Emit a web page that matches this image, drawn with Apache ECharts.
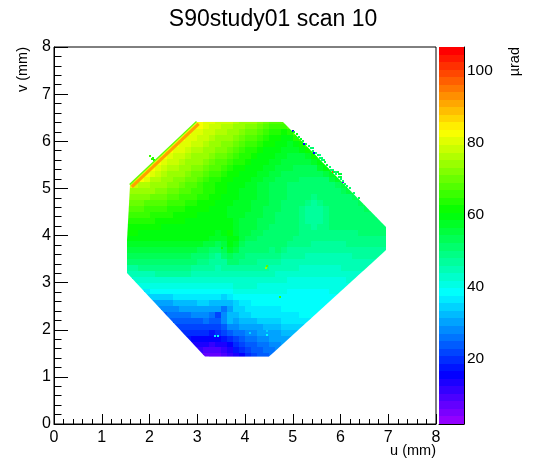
<!DOCTYPE html>
<html><head><meta charset="utf-8"><style>html,body{margin:0;padding:0;background:#fff}#c{width:546px;height:472px}</style>
<script src="https://cdn.jsdelivr.net/npm/echarts@6/dist/echarts.min.js"></script></head><body><div id="c"></div>
<script>
const titleText = 'S90study01 scan 10';
const uName = 'u (mm)', vName = 'v (mm)', zName = 'µrad';
const zMin = 1.75, zMax = 106.5, zLevels = 50;
const zTicks = [20, 40, 60, 80, 100];
const uOrigin = 1.5, vTop = 6.5, cellMM = 0.125;
// Outline of the measured region (mm)
const outline = [[2.995,6.41],[4.796,6.41],[6.953,4.18],[6.953,3.69],[4.503,1.43],[3.162,1.43],[1.529,3.204],[1.529,3.9],[1.592,5.07]];
// High-reading strip along the upper-left edge and its thin outer fringe (mm)
const edgeStrip = [[1.63,5.03],[3.03,6.37]];
const edgeFringe = [[1.585,5.08],[2.985,6.42]];
// First column index of each row, top row first
const rowStart = [11,10,9,8,7,6,5,4,3,2,1,0,0,0,0,0,0,0,0,0,0,0,0,0,0,0,0,0,1,2,3,4,5,6,7,8,9,10,10,11,12];
const rows = [
[84,83,81,80,79,78,78,77,75,74,73,71,70,68,67,68,68],
[84,83,82,80,79,78,77,76,75,74,72,71,69,68,66,65,66,68],
[84,83,81,80,79,78,77,76,74,73,72,70,69,67,66,64,63,62,64,67],
[84,83,81,80,79,78,77,75,74,73,71,70,68,67,65,64,62,61,60,60,63,66],
[84,83,81,80,79,78,76,75,74,72,71,70,68,66,65,63,62,61,60,59,58,59,62,65],
[84,83,81,80,79,77,76,75,73,72,71,69,68,66,64,63,62,60,60,59,58,57,57,59,62,64],
[84,83,81,79,78,77,75,74,73,72,70,69,67,66,64,63,62,60,60,59,58,57,56,56,56,58,61,63],
[84,83,81,79,78,76,75,74,73,71,70,68,67,65,64,63,61,60,60,59,58,57,56,56,55,55,55,57,60,62],
[84,83,81,79,77,76,75,73,72,71,70,68,67,65,64,62,61,60,60,59,58,57,56,55,55,54,54,54,54,57,60,62],
[84,83,81,78,77,75,74,73,72,70,69,68,66,65,63,62,61,60,60,59,58,57,56,55,54,54,53,53,53,53,53,56,58,61],
[84,82,80,77,76,75,73,72,71,70,69,67,66,64,63,62,61,60,60,59,58,57,56,55,54,54,53,53,52,52,52,52,52,55,57,60],
[80,79,77,76,75,74,73,72,71,70,68,67,65,64,63,62,61,60,59,59,58,57,56,55,54,54,53,52,52,52,51,51,51,52,52,54,56,59],
[74,74,74,73,73,72,71,70,69,68,67,66,65,64,63,61,61,60,59,58,58,57,56,55,54,53,53,52,52,51,51,51,51,51,52,52,53,55,58],
[71,71,71,71,70,70,69,68,67,66,65,65,64,63,62,61,60,60,59,58,57,57,56,55,54,53,53,52,51,51,50,49,50,51,51,51,52,52,54,57],
[69,69,69,68,68,68,67,66,65,65,64,63,62,62,61,60,60,59,58,58,57,56,55,55,54,53,52,52,51,50,48,47,49,50,51,51,51,51,52,53,56],
[67,67,67,66,66,66,65,64,64,63,62,62,61,61,60,60,59,58,58,57,57,56,55,54,53,53,52,51,50,49,47,46,47,49,51,50,51,51,51,52,53,55],
[66,65,65,65,64,64,63,63,62,62,61,61,60,60,60,59,59,58,57,57,56,56,55,54,53,52,52,51,50,49,47,46,46,48,50,50,50,50,51,51,51,52,54],
[64,64,63,63,63,62,62,62,61,61,60,60,60,60,60,59,59,60,58,56,56,55,54,54,53,52,51,51,50,48,47,46,47,49,50,50,50,50,50,50,51,51,52,54],
[62,62,62,61,61,61,60,60,60,60,60,60,60,60,60,59,59,60,58,56,55,55,54,53,52,52,51,51,50,49,48,47,48,49,50,50,50,50,50,50,50,50,51,52],
[61,61,60,60,60,60,60,60,60,60,60,60,60,60,59,58,60,61,58,56,55,54,53,52,52,51,51,50,50,49,49,48,48,49,49,49,49,49,49,50,50,50,50,50],
[59,59,59,59,59,59,59,59,59,59,59,59,59,59,58,57,58,60,59,56,54,53,52,52,51,51,51,50,49,49,49,48,48,48,48,48,48,49,49,49,49,49,49,49],
[57,57,57,57,57,57,57,57,57,57,57,57,57,56,55,53,56,59,58,54,52,52,51,51,50,50,50,49,48,48,48,47,47,47,47,47,47,48,48,48,48,48,48,48],
[55,55,55,55,55,55,55,55,55,55,55,55,54,53,51,50,54,57,55,52,50,50,50,50,49,50,48,47,47,47,47,46,46,46,46,46,46,47,47,47,47,47,47,47],
[53,53,53,53,53,53,53,53,53,53,53,52,51,50,48,47,50,53,52,50,49,49,49,49,48,48,47,46,46,46,45,45,45,45,45,45,45,45,46,46,46,46,46,46],
[50,50,50,50,51,51,51,51,51,51,50,50,49,48,47,46,47,50,50,48,48,48,47,47,47,47,45,45,45,45,44,44,44,44,44,44,44,44,45,45,45,45,45],
[47,47,48,48,48,48,48,48,48,48,48,47,47,47,46,45,46,47,47,46,46,46,46,46,45,45,44,44,44,43,43,43,43,43,43,43,44,44,44,44,44,44],
[44,45,45,45,45,46,46,46,46,46,46,45,45,45,45,44,44,45,45,45,44,44,44,44,44,43,43,43,42,42,42,42,42,42,42,42,42,43,43,43,43],
[42,42,42,43,43,43,43,43,43,43,43,43,43,43,43,42,42,43,43,43,43,43,42,42,42,42,42,41,41,41,41,41,41,41,41,41,41,42,42],
[40,40,40,40,40,41,41,41,41,41,41,41,41,41,40,40,41,42,42,42,42,41,41,41,41,40,40,40,40,40,40,40,40,40,40,41,41],
[37,37,38,38,38,38,39,39,39,39,39,39,39,38,38,39,40,40,40,40,40,40,40,40,40,39,39,39,39,39,39,39,40,40,40],
[34,34,34,35,35,36,36,36,37,37,37,36,36,35,36,38,38,39,39,39,39,39,39,39,39,39,38,38,38,38,39,39,39],
[30,30,31,31,32,32,33,33,34,34,33,33,32,32,35,36,37,38,38,38,38,38,38,38,38,38,38,39,39,39,39],
[27,27,28,28,29,29,30,30,30,30,29,26,30,34,35,36,37,37,37,37,37,38,38,38,38,38,39,39,39],
[24,25,25,26,26,27,27,27,26,21,27,33,33,34,35,36,36,36,36,37,37,37,37,38,38,38,38],
[23,23,24,24,24,24,25,24,23,28,32,31,32,33,33,34,34,35,35,36,36,36,37,37,37],
[21,21,21,22,22,22,22,22,24,27,28,29,30,31,31,32,33,33,34,34,35,35,36],
[19,19,19,19,19,18,19,21,23,25,26,27,28,29,30,30,31,32,33,33,34],
[17,16,16,16,15,16,18,19,22,24,25,26,27,28,29,30,30,31],
[15,14,13,13,12,13,14,16,19,21,23,24,25,26,27,28,29],
[12,11,10,10,10,12,14,17,19,21,23,24,25,26,27],
[9,8,8,8,9,11,13,16,19,21,23,24,25]
];
// Isolated noisy readings [u, v, value]
const specks = [[4.44,3.31,75],[4.46,3.36,68],[4.73,2.7,65],[3.52,3.73,62],[3.43,1.87,38],[3.38,1.87,36],[4.46,1.89,38],[4.46,1.98,34],[4.1,1.93,34],
[2.07,5.65,64],[2.02,5.69,66],[2.1,5.6,62],[2.05,5.62,64],[5,6.22,15],[5.24,5.94,15],[5.45,5.75,15],[6.05,5.14,10],[5.84,5.35,100],
[5.03,6.2,58],[5.08,6.15,60],[5.13,6.1,56],[5.18,6.05,58],[5.22,6,56],[5.28,5.95,55],[5.33,5.9,54],[5.38,5.85,50],[5.42,5.85,52],[5.43,5.8,54],[5.48,5.75,52],
[5.52,5.7,55],[5.57,5.7,48],[5.58,5.65,52],[5.62,5.65,50],[5.62,5.6,52],[5.66,5.6,54],[5.67,5.55,55],[5.71,5.5,56],[5.77,5.45,52],[5.81,5.4,50],[5.85,5.4,52],
[5.86,5.35,55],[5.91,5.35,52],[5.95,5.35,56],[5.91,5.3,52],[5.96,5.3,58],[6,5.3,56],[5.96,5.25,54],[6,5.25,55],[6,5.2,52],[6.05,5.15,50],[6.1,5.1,54],[6.14,5.05,52],[6.19,5,50],[6.29,4.9,52],[6.38,4.8,54]];

const step = (zMax - zMin) / zLevels;
const pieces = [];
for (let i = 0; i < zLevels; i++) {
  pieces.push({gte: zMin + i * step, lt: zMin + (i + 1) * step, color: 'hsl(' + (280 - (i + 1) * 5.6) + ',100%,50%)'});
}
pieces[0].gte = -1000; pieces[zLevels - 1].lt = 1000;
const cells = [];
rows.forEach((row, r) => row.forEach((val, k) => cells.push([uOrigin + (rowStart[r] + k) * cellMM, vTop - r * cellMM, val])));
const bands = pieces.map((p, i) => [zMin + i * step, zMin + (i + 1) * step, zMin + (i + 0.5) * step]);

function clipConvex(pts, poly) {
  let out = pts;
  for (let i = 0; i < poly.length && out.length; i++) {
    const a = poly[i], b = poly[(i + 1) % poly.length];
    const side = p => (b[0] - a[0]) * (p[1] - a[1]) - (b[1] - a[1]) * (p[0] - a[0]);
    const res = [];
    for (let j = 0; j < out.length; j++) {
      const p = out[j], q = out[(j + 1) % out.length], sp = side(p), sq = side(q);
      if (sp >= 0) res.push(p);
      if ((sp >= 0) !== (sq >= 0)) { const t = sp / (sp - sq); res.push([p[0] + t * (q[0] - p[0]), p[1] + t * (q[1] - p[1])]); }
    }
    out = res;
  }
  return out;
}
function cellItem(params, api) {
  const u = api.value(0), v = api.value(1);
  const p0 = api.coord([u, v]), p1 = api.coord([u + cellMM, v - cellMM]);
  const x0 = Math.round(p0[0]), y0 = Math.round(p0[1]), x1 = Math.round(p1[0]), y1 = Math.round(p1[1]);
  const poly = outline.map(o => api.coord(o));
  const pts = clipConvex([[x0, y0], [x1, y0], [x1, y1], [x0, y1]], poly);
  if (pts.length < 3) return null;
  return {type: 'polygon', shape: {points: pts}, style: {fill: api.visual('color')}};
}
function speckItem(params, api) {
  const p = api.coord([api.value(0), api.value(1)]);
  return {type: 'rect', shape: {x: Math.round(p[0]) - 1, y: Math.round(p[1]) - 1, width: 2, height: 2}, style: {fill: api.visual('color')}};
}
function bandItem(params, api) {
  const lo = api.coord([0, api.value(0)]), hi = api.coord([1, api.value(1)]);
  const y0 = Math.round(hi[1]), y1 = Math.round(lo[1]);
  return {type: 'rect', shape: {x: lo[0], y: y0, width: hi[0] - lo[0], height: y1 - y0}, style: {fill: api.visual('color')}};
}
const font = 'Liberation Sans';
const black = {color: '#000', width: 1};
const nameStyleBase = {color: '#000', fontFamily: font, fontSize: 14.5};
const chart = echarts.init(document.getElementById('c'), null, {renderer: 'canvas'});
chart.setOption({
  animation: false,
  backgroundColor: '#fff',
  title: {text: titleText, left: 'center', top: 3, textStyle: {color: '#000', fontFamily: font, fontSize: 23, fontWeight: 'normal'}},
  grid: [
    {left: 54, top: 47, width: 382, height: 377, show: true, borderColor: '#000', borderWidth: 1, backgroundColor: 'transparent'},
    {left: 439, top: 47, width: 25, height: 377, show: false}
  ],
  visualMap: {show: false, type: 'piecewise', dimension: 2, seriesIndex: [0, 1, 2], pieces: pieces},
  xAxis: [
    {type: 'value', gridIndex: 0, min: 0, max: 8, interval: 1, name: uName, nameLocation: 'end', nameGap: 0, nameMoveOverlap: false,
     nameTextStyle: Object.assign({align: 'right', verticalAlign: 'top', padding: [19, 0, 0, 0]}, nameStyleBase),
     axisLine: {show: true, onZero: false, lineStyle: black}, axisTick: {inside: true, length: 10, lineStyle: black},
     minorTick: {show: true, splitNumber: 5, length: 5, lineStyle: black}, splitLine: {show: false}, minorSplitLine: {show: false},
     axisLabel: {color: '#000', fontFamily: font, fontSize: 16, margin: 6, showMinLabel: true, showMaxLabel: true, hideOverlap: false}},
    {type: 'value', gridIndex: 1, min: 0, max: 1, axisLine: {show: true, onZero: false, lineStyle: black}, axisTick: {show: false}, axisLabel: {show: false}, splitLine: {show: false}}
  ],
  yAxis: [
    {type: 'value', gridIndex: 0, min: 0, max: 8, interval: 1, name: vName, nameLocation: 'end', nameGap: 0, nameRotate: 90, nameMoveOverlap: false,
     nameTextStyle: Object.assign({align: 'right', verticalAlign: 'bottom', padding: [0, 0, 24, 0]}, nameStyleBase),
     axisLine: {show: true, onZero: false, lineStyle: black}, axisTick: {inside: true, length: 14, lineStyle: black},
     minorTick: {show: true, splitNumber: 5, length: 7.5, lineStyle: black}, splitLine: {show: false}, minorSplitLine: {show: false},
     axisLabel: {color: '#000', fontFamily: font, fontSize: 16, margin: 3, showMinLabel: true, showMaxLabel: true, hideOverlap: false}},
    {type: 'value', gridIndex: 1, min: zMin, max: zMax, position: 'right', name: zName, nameLocation: 'end', nameGap: 0, nameRotate: 90, nameMoveOverlap: false,
     nameTextStyle: Object.assign({align: 'right', verticalAlign: 'top', padding: [43, 0, 0, 0]}, nameStyleBase),
     axisLine: {show: true, onZero: false, lineStyle: black},
     axisTick: {inside: true, length: 14, lineStyle: black, customValues: zTicks},
     axisLabel: {color: '#000', fontFamily: font, fontSize: 15.5, margin: 3, customValues: zTicks, formatter: v => String(v)},
     splitLine: {show: false}}
  ],
  series: [
    {type: 'custom', name: 'cells', xAxisIndex: 0, yAxisIndex: 0, coordinateSystem: 'cartesian2d', data: cells, encode: {x: 0, y: 1}, renderItem: cellItem, silent: true, clip: false, progressive: 0},
    {type: 'custom', name: 'specks', xAxisIndex: 0, yAxisIndex: 0, coordinateSystem: 'cartesian2d', data: specks, encode: {x: 0, y: 1}, renderItem: speckItem, silent: true, progressive: 0},
    {type: 'custom', name: 'palette', xAxisIndex: 1, yAxisIndex: 1, coordinateSystem: 'cartesian2d', data: bands, encode: {y: [0, 1]}, renderItem: bandItem, silent: true, progressive: 0},
    {type: 'line', name: 'edge fringe', xAxisIndex: 0, yAxisIndex: 0, data: edgeFringe, showSymbol: false, silent: true, lineStyle: {color: '#66ff00', width: 1.5}},
    {type: 'line', name: 'edge strip', xAxisIndex: 0, yAxisIndex: 0, data: edgeStrip, showSymbol: false, silent: true, lineStyle: {color: '#ffa000', width: 3}}
  ]
});
</script></body></html>
